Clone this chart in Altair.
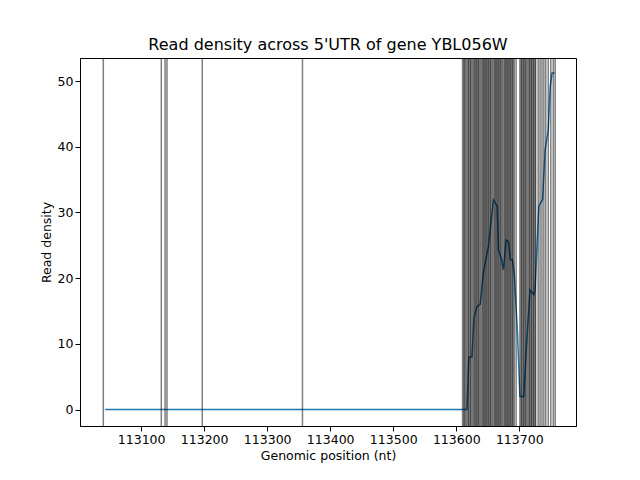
import altair as alt
import pandas as pd

# read density trace
positions = [113043, 113610, 113617, 113620, 113625, 113628, 113633, 113638, 113643, 113651,
             113659, 113665, 113667, 113672, 113675, 113679, 113683, 113686, 113689, 113692,
             113697, 113701, 113707, 113712, 113717, 113723, 113725, 113731, 113737, 113741,
             113746, 113749, 113752, 113756]
density = [0, 0, 0, 8, 8, 14, 15.7, 16, 20.8, 24.8,
           31.9, 31, 24.3, 22.8, 21.3, 25.8, 25.5, 22.8, 22.8, 20.8,
           12, 2, 2, 10.6, 18.2, 17.5, 18.2, 30.9, 32, 39.5,
           42.5, 49.1, 51.2, 51.2]

# marked positions (vertical lines)
marks = [113040, 113132, 113138, 113141, 113197, 113356,
         113610, 113612, 113613, 113615, 113617, 113619, 113620, 113622, 113623, 113625,
         113627, 113629, 113630, 113632, 113633, 113635, 113636, 113638, 113640, 113642,
         113643, 113645, 113646, 113648, 113649, 113651, 113652, 113654, 113655, 113657,
         113659, 113661, 113662, 113664, 113665, 113667, 113668, 113670, 113671, 113673,
         113675, 113677, 113678, 113680, 113681, 113683, 113684, 113686, 113687, 113689,
         113690, 113692, 113695, 113701, 113703, 113704, 113706, 113707, 113709, 113710,
         113712, 113714, 113716, 113717, 113719, 113720, 113722, 113723, 113725, 113726,
         113730, 113733, 113736, 113739, 113742, 113746, 113750, 113754, 113757]

line_df = pd.DataFrame({"pos": positions, "density": density})
mark_df = pd.DataFrame({"pos": marks})

xscale = alt.Scale(domain=[113003, 113790], nice=False, zero=False)
yscale = alt.Scale(domain=[-2.5, 53.5], nice=False, zero=False)

line = alt.Chart(line_df).mark_line(color="#1f77b4", strokeWidth=1.5).encode(
    x=alt.X("pos:Q", scale=xscale, title="Genomic position (nt)",
            axis=alt.Axis(values=[113100, 113200, 113300, 113400, 113500, 113600, 113700],
                          format="d", grid=False)),
    y=alt.Y("density:Q", scale=yscale, title="Read density",
            axis=alt.Axis(values=[0, 10, 20, 30, 40, 50], grid=False))
)

rules = alt.Chart(mark_df).mark_rule(color="black", opacity=0.5, strokeWidth=1.5).encode(
    x=alt.X("pos:Q", scale=xscale)
)

chart = alt.layer(line, rules).properties(
    width=496, height=368,
    autosize=alt.AutoSizeParams(type="none"),
    padding={"left": 72, "top": 50, "right": 56, "bottom": 54},
    title=alt.Title("Read density across 5'UTR of gene YBL056W", fontSize=16,
                    fontWeight="normal", font="DejaVu Sans", color="black")
).configure_axis(
    labelFont="DejaVu Sans", titleFont="DejaVu Sans", labelFontSize=12.5, titleFontSize=12.5,
    titleFontWeight="normal", labelColor="black", titleColor="black",
    domainColor="black", tickColor="black"
).configure_view(stroke="black", strokeWidth=1)

chart.save("out.html", embed_options={"renderer": "svg", "actions": False})
